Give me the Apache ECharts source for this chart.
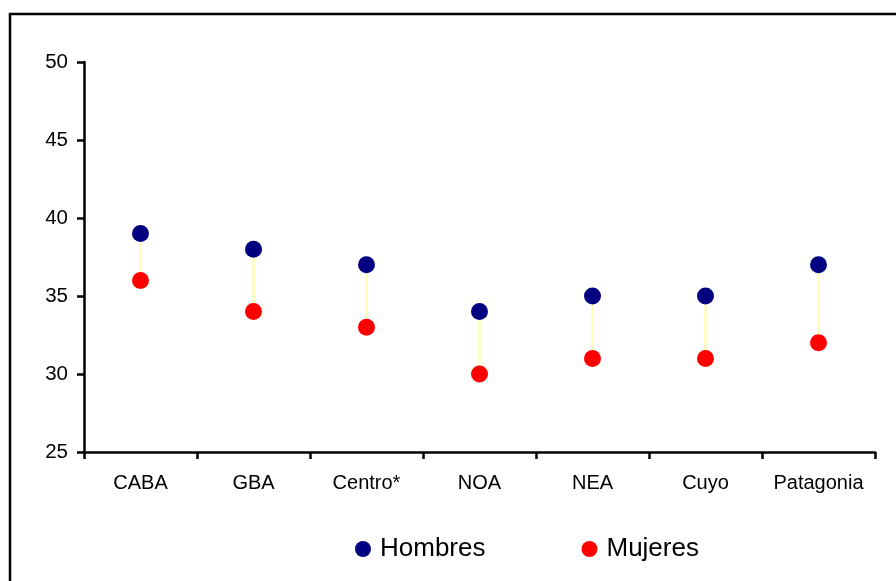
<!DOCTYPE html>
<html>
<head>
<meta charset="utf-8">
<script src="https://cdn.jsdelivr.net/npm/echarts@6/dist/echarts.min.js"></script>
<style>
  html, body { margin: 0; padding: 0; background: #fff; }
  #chart { width: 896px; height: 581px; }
</style>
</head>
<body>
<div id="chart"></div>
<script>
// regiones
var regiones = ['CABA', 'GBA', 'Centro*', 'NOA', 'NEA', 'Cuyo', 'Patagonia'];
var hombres = [39, 38, 37, 34, 35, 35, 37];
var mujeres = [36, 34, 33, 30, 31, 31, 32];
var yTicks = [25, 30, 35, 40, 45, 50];

(function () {
  var myChart = echarts.init(document.getElementById('chart'));

  // pares para la linea que une los puntos
  var pares = regiones.map(function (r, i) {
    return [i, hombres[i], mujeres[i]];
  });

  var option = {
    animation: false,
    textStyle: { fontFamily: 'Liberation Sans, Arial, sans-serif' },
    graphic: [{
      type: 'rect',
      shape: { x: 10, y: 14, width: 1000, height: 1000 },
      style: { fill: 'none', stroke: '#000', lineWidth: 2.5 },
      silent: true
    }],
    grid: { left: 84, right: 21, top: 62, bottom: 129 },
    legend: {
      left: 350,
      top: 531,
      itemGap: 96,
      itemWidth: 16,
      itemHeight: 16,
      icon: 'circle',
      textStyle: { fontSize: 26, color: '#000', padding: [0, 0, 0, 4] },
      data: ['Hombres', 'Mujeres']
    },
    xAxis: {
      type: 'category',
      data: regiones,
      boundaryGap: true,
      axisLine: { lineStyle: { color: '#000', width: 2.5 } },
      axisTick: { show: true, interval: 0, length: 7, lineStyle: { color: '#000', width: 2.5 } },
      axisLabel: { color: '#000', fontSize: 20, margin: 21, interval: 0 }
    },
    yAxis: {
      type: 'value',
      min: yTicks[0],
      max: yTicks[yTicks.length - 1],
      interval: 5,
      splitLine: { show: false },
      axisLine: { show: true, lineStyle: { color: '#000', width: 2.5 } },
      axisTick: { show: true, length: 7, lineStyle: { color: '#000', width: 2.5 } },
      axisLabel: { color: '#000', fontSize: 20.5, margin: 16 }
    },
    series: [
      {
        type: 'custom',
        name: 'union',
        z: 1,
        renderItem: function (params, api) {
          var a = api.coord([api.value(0), api.value(1)]);
          var b = api.coord([api.value(0), api.value(2)]);
          return {
            type: 'line',
            shape: { x1: a[0], y1: a[1], x2: b[0], y2: b[1] },
            style: { stroke: '#ffffb8', lineWidth: 2.5 }
          };
        },
        encode: { x: 0, y: [1, 2] },
        data: pares
      },
      {
        name: 'Hombres',
        type: 'scatter',
        z: 3,
        symbol: 'circle',
        symbolSize: 17,
        itemStyle: { color: '#000080', opacity: 1 },
        data: hombres
      },
      {
        name: 'Mujeres',
        type: 'scatter',
        z: 3,
        symbol: 'circle',
        symbolSize: 17,
        itemStyle: { color: '#ff0000', opacity: 1 },
        data: mujeres
      }
    ]
  };

  myChart.setOption(option);
  window.addEventListener('resize', function () {
    myChart.resize();
  });
})();
</script>
</body>
</html>
